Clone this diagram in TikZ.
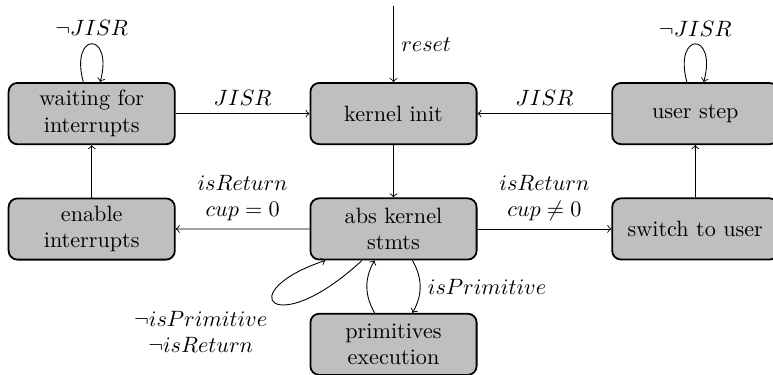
\documentclass[tikz,border=0pt]{standalone}
\usetikzlibrary{positioning}
\begin{document}
\begin{tikzpicture}[node distance=0.83cm and 2.12cm,
    state/.style={draw, thick, rectangle, rounded corners, fill=gray!50,
        text width=2.4cm, minimum height=0.97cm, align=center},
    trans/.style={->}]
    \useasboundingbox (-6.236,-4.128) rectangle (6.014,1.80);
    % states
    \node[state] (init) {kernel init};
    \node[state, left=of init] (wait) {waiting for\\ interrupts};
    \node[state, right=of init] (user) {user step};
    \node[state, below=of init] (abs) {abs kernel\\ stmts};
    \node[state, below=of wait] (enable) {enable\\ interrupts};
    \node[state, below=of user] (switch) {switch to user};
    \node[state, below=of abs] (prim) {primitives\\ execution};
    \coordinate[above=1.2cm of init.north] (start);
    % transitions
    \draw[trans] (start) -- node[right] {$reset$} (init);
    \draw[trans] (wait) -- node[above] {$JISR$} (init);
    \draw[trans] (user) -- node[above] {$JISR$} (init);
    \draw[trans] (wait) to[loop above] node[above] {$\neg JISR$} (wait);
    \draw[trans] (user) to[loop above] node[above] {$\neg JISR$} (user);
    \draw[trans] (init) -- (abs);
    \draw[trans] (abs) -- node[above, align=center] {$isReturn$\\ $cup = 0$} (enable);
    \draw[trans] (abs) -- node[above, align=center] {$isReturn$\\ $cup \neq 0$} (switch);
    \draw[trans] (enable) -- (wait);
    \draw[trans] (switch) -- (user);
    \draw[trans] ([xshift=0.3cm]abs.south) to[bend left] node[right] {$isPrimitive$} ([xshift=0.3cm]prim.north);
    \draw[trans] ([xshift=-0.3cm]prim.north) to[bend left] ([xshift=-0.3cm]abs.south);
    \draw[trans] ([xshift=-0.5cm]abs.south) .. controls +(-1.4,-1.3) and +(-1.5,-0.5) ..
        node[below left, align=center] {$\neg isPrimitive$\\ $\neg isReturn$} ([xshift=-1.08cm]abs.south);
\end{tikzpicture}
\end{document}
